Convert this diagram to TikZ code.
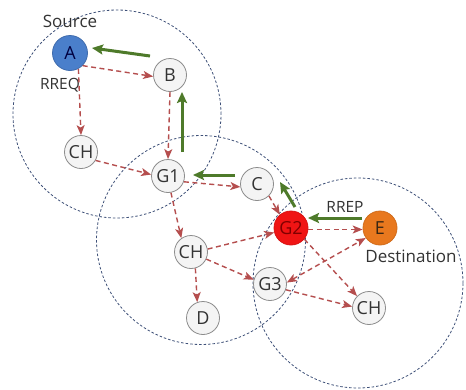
\documentclass[tikz,border=0pt]{standalone}
\usepackage{fontspec}
\setmainfont{Open Sans}
\usetikzlibrary{arrows.meta,calc}
\definecolor{ringc}{HTML}{3E5078}
\definecolor{reqc}{HTML}{B54E4E}
\definecolor{repc}{HTML}{4E7A2A}
\definecolor{nodeb}{HTML}{8C8C8C}
\definecolor{nodef}{HTML}{F4F4F4}
\definecolor{afill}{HTML}{4A7FCB}
\definecolor{gfill}{HTML}{F01414}
\definecolor{efill}{HTML}{E8781E}
\definecolor{txt}{HTML}{333333}
\begin{document}
\begin{tikzpicture}[x=1pt,y=-1pt,
  nd/.style={circle,draw=nodeb,fill=nodef,line width=0.8pt,minimum size=33pt,inner sep=0pt,text=txt,font=\fontsize{18}{18}\selectfont},
  ring/.style={draw=ringc,dash pattern=on 2.5pt off 2pt,line width=0.8pt},
  req/.style={draw=reqc,line width=1.4pt,dash pattern=on 5pt off 3.5pt,-{Stealth[length=10pt,width=8pt,inset=2.5pt]}},
  rep/.style={draw=repc,line width=3pt,-{Stealth[length=11pt,width=10pt,inset=2pt]}},
  lbl/.style={text=txt,inner sep=0pt,font=\fontsize{17}{17}\selectfont},
  slbl/.style={text=txt,inner sep=0pt,font=\fontsize{15.5}{15.5}\selectfont}]
\useasboundingbox (0,0) rectangle (466,389);
\fill[white] (0,0) rectangle (466,389);
% coverage rings
\draw[ring] (117,114) circle[radius=104pt];
\draw[ring] (201,240) circle[radius=104.5pt];
\draw[ring] (358,283) circle[radius=105pt];
% nodes
\node[nd,fill=afill,draw=afill!85!black,text=black!75!blue,minimum size=35pt] (A) at (70,53) {A};
\node[nd] (B) at (170,75) {B};
\node[nd] (CH1) at (81,152) {CH};
\node[nd] (G1) at (168,176) {G1};
\node[nd] (C) at (257,184) {C};
\node[nd,fill=gfill,draw=gfill!90!black,text=red!50!black,minimum size=34pt] (G2) at (291,228) {G2};
\node[nd,fill=efill,draw=efill!90!black,text=black!70!brown,minimum size=34pt] (E) at (380,228) {E};
\node[nd] (CH2) at (191,252) {CH};
\node[nd] (G3) at (270,284) {G3};
\node[nd] (D) at (203,318) {D};
\node[nd] (CH3) at (369,308) {CH};
% labels
\node[lbl] (src) at (70,21) {Source};
\node[slbl] (rreq) at (60,85) {RREQ};
\node[slbl] (rrep) at (345,207) {RREP};
\node[lbl] (dst) at (411,256) {Destination};
% route requests
\draw[req] (A.-45) -- (B.185);
\draw[req] (A.-62) -- (CH1.north);
\draw[req] (B.south) -- (G1.north);
\draw[req] (CH1.-30) -- (G1.175);
\draw[req] (G1.-20) -- (C.190);
\draw[req] (G1.-80) -- (CH2.125);
\draw[req] (C.-45) -- (G2.130);
\draw[req] (CH2.10) -- (G2.195);
\draw[req] (CH2.-25) -- (G3.165);
\draw[req] (CH2.-75) -- (D.110);
\draw[req] (G2.-5) -- (E.185);
\draw[req] (G2.-40) -- (CH3.135);
\draw[req,{Stealth[length=10pt,width=8pt,inset=2.5pt]}-{Stealth[length=10pt,width=8pt,inset=2.5pt]}] (G3.5) -- (E.215);
\draw[req] (G3.-20) -- (CH3.175);
% route replies
\draw[rep] ($(B)+(-20,-19)$) -- ($(A)+(22,-5)$);
\draw[rep] ($(G1)+(14,-24)$) -- ($(B)+(12,17)$);
\draw[rep] ($(C)+(-22,-9)$) -- ($(G1)+(25,-1)$);
\draw[rep] ($(G2)+(4,-21)$) -- ($(C)+(23,-2)$);
\draw[rep] ($(E)+(-18,-10)$) -- ($(G2)+(17,-10)$);
\end{tikzpicture}
\end{document}
